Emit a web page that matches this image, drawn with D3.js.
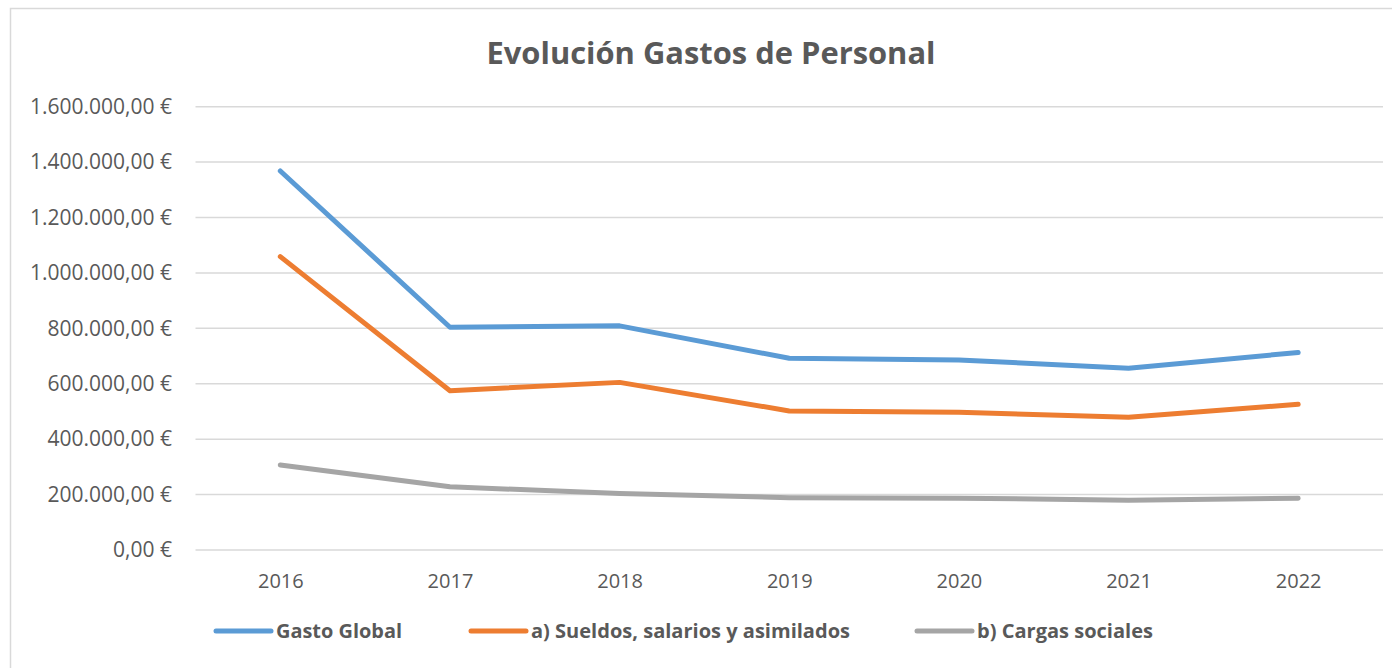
<!DOCTYPE html>
<html>
<head>
<meta charset="utf-8">
<script src="https://cdn.jsdelivr.net/npm/d3@7"></script>
<style>
  body { margin: 0; background: #fff; }
  svg { display: block; font-family: "Open Sans", sans-serif; }
</style>
</head>
<body>
<div id="chart"></div>
<script>
// data
var years = ["2016", "2017", "2018", "2019", "2020", "2021", "2022"];
var gastoGlobal = [1368000, 804000, 809000, 692000, 686000, 656000, 713000];
var sueldos = [1059000, 575000, 605000, 502000, 497000, 479000, 526000];
var cargas = [307000, 228000, 204000, 189000, 187000, 180000, 187000];
var yTicks = [0, 200000, 400000, 600000, 800000, 1000000, 1200000, 1400000, 1600000];
var seriesNames = ["Gasto Global", "a) Sueldos, salarios y asimilados", "b) Cargas sociales"];
var seriesColors = ["#5B9BD5", "#ED7D31", "#A5A5A5"];

var width = 1392, height = 668;
var plot = {left: 195.5, right: 1383, top: 106.7, bottom: 550};

var svg = d3.select("#chart").append("svg")
    .attr("width", width)
    .attr("height", height);

// chart frame (runs off the right / bottom of the picture)
svg.append("rect")
    .attr("x", 10.5).attr("y", 8.5)
    .attr("width", 1400).attr("height", 700)
    .attr("fill", "#fff")
    .attr("stroke", "#d9d9d9")
    .attr("stroke-width", 1.5);

var es = d3.formatLocale({decimal: ",", thousands: ".", grouping: [3], currency: ["", " €"]});
var fmt = es.format("$,.2f");

var x = d3.scalePoint().domain(years).range([plot.left, plot.right]).padding(0.5);
var y = d3.scaleLinear().domain([0, 1600000]).range([plot.bottom, plot.top]);

// gridlines
svg.append("g").selectAll("line")
    .data(yTicks)
  .enter().append("line")
    .attr("x1", plot.left).attr("x2", plot.right)
    .attr("y1", function(d){ return y(d); })
    .attr("y2", function(d){ return y(d); })
    .attr("stroke", "#d9d9d9")
    .attr("stroke-width", 1.5);

// y axis labels
var yAxis = d3.axisLeft(y).tickValues(yTicks).tickFormat(fmt).tickSize(0).tickPadding(0);
svg.append("g")
    .attr("transform", "translate(172,0)")
    .call(yAxis)
    .call(function(g){ g.select(".domain").remove(); })
    .selectAll("text")
    .attr("fill", "#595959")
    .style("font-size", "21px")
    .style("font-family", "Open Sans, sans-serif");

// x axis labels
var xAxis = d3.axisBottom(x).tickSize(0).tickPadding(0);
svg.append("g")
    .attr("transform", "translate(0,574)")
    .call(xAxis)
    .call(function(g){ g.select(".domain").remove(); })
    .selectAll("text")
    .attr("fill", "#595959")
    .style("font-size", "20px")
    .style("font-family", "Open Sans, sans-serif");

var series = [gastoGlobal, sueldos, cargas];

var line = d3.line()
    .x(function(d, i){ return x(years[i]); })
    .y(function(d){ return y(d); });

svg.append("g").selectAll("path")
    .data(series)
  .enter().append("path")
    .attr("d", line)
    .attr("fill", "none")
    .attr("stroke", function(d, i){ return seriesColors[i]; })
    .attr("stroke-width", 5)
    .attr("stroke-linecap", "round")
    .attr("stroke-linejoin", "round");

// title
svg.append("text")
    .attr("x", 711).attr("y", 64)
    .attr("text-anchor", "middle")
    .attr("fill", "#595959")
    .attr("font-weight", "bold")
    .style("font-size", "31px")
    .attr("textLength", 449)
    .attr("lengthAdjust", "spacingAndGlyphs")
    .text("Evolución Gastos de Personal");

// legend
var legendX = [216, 471, 917];
var legendTextW = [126, 319, 176];
var legend = svg.append("g").selectAll("g")
    .data(seriesNames)
  .enter().append("g")
    .attr("transform", function(d, i){ return "translate(" + legendX[i] + ",631)"; });

legend.append("line")
    .attr("x1", 0).attr("x2", 55)
    .attr("stroke", function(d, i){ return seriesColors[i]; })
    .attr("stroke-width", 5)
    .attr("stroke-linecap", "round");

legend.append("text")
    .attr("x", 60).attr("y", 7)
    .attr("fill", "#595959")
    .attr("font-weight", "bold")
    .style("font-size", "19px")
    .attr("textLength", function(d, i){ return legendTextW[i]; })
    .attr("lengthAdjust", "spacingAndGlyphs")
    .text(function(d){ return d; });
</script>
</body>
</html>
